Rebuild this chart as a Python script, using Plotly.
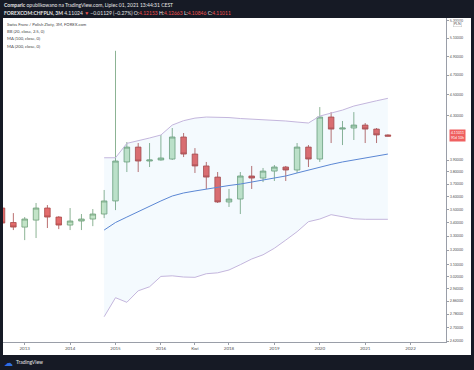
import plotly.graph_objects as go
import math

# ---------------- data ----------------
bar_index = list(range(35))  # 3M bars, equally spaced (TradingView bar-index axis)
opens  = [3.510, 3.400, 3.366, 3.418, 3.510, 3.441, 3.381, 3.411, 3.426, 3.464,
          3.565, 3.884, 4.013, 3.892, 3.901, 3.909, 4.103, 3.952, 3.850, 3.757,
          3.557, 3.580, 3.766, 3.749, 3.807, 3.841, 3.816, 4.013, 3.909, 4.287,
          4.175, 4.185, 4.212, 4.175, 4.12153]
highs  = [3.533, 3.471, 3.441, 3.549, 3.533, 3.448, 3.510, 3.464, 3.502, 3.652,
          4.959, 4.058, 4.049, 4.049, 4.121, 4.185, 4.139, 4.004, 3.884, 3.799,
          3.660, 3.799, 3.850, 3.833, 3.858, 3.850, 4.049, 4.031, 4.382, 4.334,
          4.250, 4.334, 4.231, 4.185, 4.12663]
lows   = [3.373, 3.344, 3.271, 3.286, 3.359, 3.351, 3.344, 3.344, 3.373, 3.433,
          3.494, 3.799, 3.799, 3.841, 3.895, 3.901, 3.926, 3.791, 3.660, 3.549,
          3.518, 3.464, 3.660, 3.716, 3.725, 3.725, 3.791, 3.841, 3.884, 4.049,
          4.031, 4.076, 4.049, 4.049, 4.10846]
closes = [3.396, 3.366, 3.426, 3.510, 3.441, 3.381, 3.411, 3.426, 3.464, 3.565,
          3.892, 4.013, 3.892, 3.901, 3.918, 4.103, 3.952, 3.850, 3.757, 3.557,
          3.580, 3.766, 3.749, 3.807, 3.841, 3.816, 4.013, 3.909, 4.287, 4.175,
          4.185, 4.212, 4.175, 4.1215, 4.11011]

ind_index = list(range(9, 35))
bb_upper = [3.920, 3.920, 4.046, 4.067, 4.094, 4.121, 4.212, 4.253, 4.277, 4.287,
            4.287, 4.282, 4.273, 4.268, 4.259, 4.254, 4.250, 4.240, 4.231, 4.296,
            4.325, 4.353, 4.392, 4.421, 4.443, 4.467]
bb_lower = [2.764, 2.882, 2.853, 2.926, 2.952, 3.020, 3.024, 3.016, 3.014, 3.038,
            3.044, 3.063, 3.099, 3.138, 3.167, 3.213, 3.271, 3.332, 3.406, 3.426,
            3.459, 3.443, 3.428, 3.424, 3.424, 3.424]
ma100 = [3.344, 3.400, 3.441, 3.483, 3.525, 3.565, 3.604, 3.628, 3.644, 3.660,
         3.676, 3.688, 3.700, 3.716, 3.733, 3.749, 3.766, 3.791, 3.816, 3.841,
         3.863, 3.884, 3.901, 3.918, 3.935, 3.952]

x_tick_pos = [2, 6, 10, 14, 17, 20, 24, 28, 32, 36]
x_tick_labels = ["2013", "2014", "2015", "2016", "Kwi", "2018", "2019", "2020", "2021", "2022"]
y_tick_vals = [2.62, 2.70, 2.78, 2.86, 2.94, 3.02, 3.10, 3.20, 3.30, 3.40, 3.50,
               3.60, 3.70, 3.80, 3.90, 4.30, 4.50, 4.70, 4.90, 5.10, 5.30]
last_price = "4.11011"

# ---------------- layout helpers (pixel -> paper) ----------------
W, H = 474, 370
L, R, T, B = 3, 28, 18, 28
def px(x):
    return (x - L) / (W - L - R)
def py(y):
    return (H - B - y) / (H - T - B)

RED = "#ef5350"
fig = go.Figure()

fig.add_trace(go.Scatter(x=ind_index, y=bb_lower, mode="lines",
                         line=dict(color="#c4b6dd", width=1), hoverinfo="skip"))
fig.add_trace(go.Scatter(x=ind_index, y=bb_upper, mode="lines",
                         line=dict(color="#c4b6dd", width=1), fill="tonexty",
                         fillcolor="rgba(33,150,243,0.05)", hoverinfo="skip"))
fig.add_trace(go.Scatter(x=ind_index, y=ma100, mode="lines",
                         line=dict(color="#5b87d4", width=1), hoverinfo="skip"))
fig.add_trace(go.Candlestick(
    x=bar_index, open=opens, high=highs, low=lows, close=closes,
    increasing=dict(fillcolor="#c3e4c8", line=dict(color="#6f9f79", width=0.8)),
    decreasing=dict(fillcolor="#e36b6b", line=dict(color="#a94a4a", width=0.8)),
    whiskerwidth=0,
))

fig.update_layout(
    width=W, height=H,
    margin=dict(l=L, r=R, t=T, b=B, pad=0),
    paper_bgcolor="#161a25", plot_bgcolor="white",
    showlegend=False,
    font=dict(family="Lato, Open Sans, sans-serif"),
    xaxis=dict(range=[0.088, 39.12], tickmode="array", tickvals=x_tick_pos,
               ticktext=x_tick_labels, showgrid=False, zeroline=False,
               showline=True, linecolor="#9a9ea8", linewidth=1,
               ticks="outside", ticklen=2, tickcolor="#9a9ea8",
               tickfont=dict(size=4.5, color="#555555"),
               rangeslider=dict(visible=False)),
    yaxis=dict(type="log", side="right",
               range=[math.log10(2.6146), math.log10(5.3297)],
               tickmode="array", tickvals=y_tick_vals,
               ticktext=["%.5f" % v for v in y_tick_vals],
               showgrid=False, zeroline=False, showline=True,
               linecolor="#9a9ea8", linewidth=1, ticks="outside", ticklen=2,
               tickcolor="#9a9ea8", tickfont=dict(size=3.6, color="#555555")),
    shapes=[dict(type="rect", xref="paper", yref="paper", x0=px(3), x1=px(471),
                 y0=py(355), y1=py(18), fillcolor="white", line=dict(width=0),
                 layer="below")],
)

ann = []
ann.append(dict(x=px(2), y=py(5), xanchor="left", yanchor="middle",
                text="<b>Comparic</b> opublikowano na TradingView.com, Lipiec 01, 2021 13:44:31 CEST",
                font=dict(size=5, color="#e6e6e6")))
ann.append(dict(x=px(2), y=py(13), xanchor="left", yanchor="middle",
                text=("<b>FOREXCOM:CHFPLN, 3M</b> 4.11024 <span style='color:%s'>▼</span> "
                      "−0.01129 (−0.27%%) O:<span style='color:%s'>4.12153</span> "
                      "H:<span style='color:%s'>4.12663</span> L:<span style='color:%s'>4.10846</span> "
                      "C:<span style='color:%s'>4.11011</span>") % (RED, RED, RED, RED, RED),
                font=dict(size=5, color="#e6e6e6")))
legend_lines = ["Swiss Franc / Polish Zloty, 3M, FOREX.com", "BB (20, close, 2.5, 0)",
                "MA (100, close, 0)", "MA (200, close, 0)"]
for k, t in enumerate(legend_lines):
    ann.append(dict(x=px(5), y=py(25 + 7 * k), xanchor="left", yanchor="middle",
                    text=t, font=dict(size=4.2, color="#444444")))
ann.append(dict(x=px(457.5), y=py(129), xanchor="center", yanchor="top",
                text=last_price + "<br>91d 10h", bgcolor="#ef6060",
                font=dict(size=3.5, color="white"), borderpad=1, align="center"))
ann.append(dict(x=px(457.5), y=py(24), xanchor="center", yanchor="middle",
                text="PLN", bgcolor="white", bordercolor="#c0c0c0", borderwidth=0.5,
                font=dict(size=3.5, color="#555555"), borderpad=0.5))
ann.append(dict(x=px(8), y=py(362), xanchor="center", yanchor="middle",
                text="☁", font=dict(size=9, color="#2f6fe4")))
ann.append(dict(x=px(14), y=py(362), xanchor="left", yanchor="middle",
                text="TradingView", font=dict(size=5, color="#e6e6e6")))
for a in ann:
    a.update(xref="paper", yref="paper", showarrow=False)
fig.update_layout(annotations=ann)

fig.write_html("out.html", config={"displayModeBar": False},
               post_script="document.body.style.margin='0';document.body.style.padding='0';document.body.style.overflow='hidden';")
